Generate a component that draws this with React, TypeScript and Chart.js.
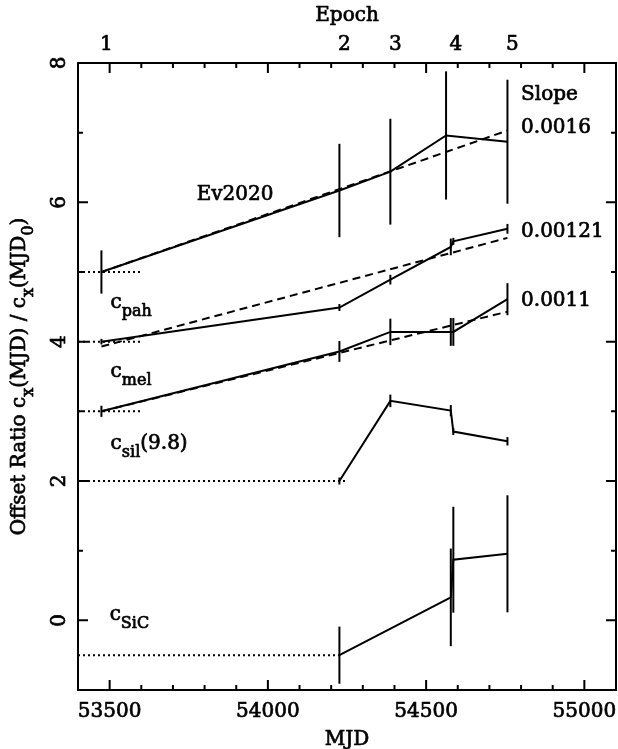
import React, { useEffect, useRef } from "react";
import { Chart, registerables } from "chart.js";
Chart.register(...registerables);

// ---------- data ----------
const epochLabels = ["1", "2", "3", "4", "5"];
const epochMJD = [53474, 54226, 54387, 54578, 54757];

const xTickLabels = [53500, 54000, 54500, 55000];
const yTickLabels = [0, 2, 4, 6, 8];

// Ev2020 (top) series
const evMJD = [53474, 54226, 54387, 54563, 54757];
const evVal = [5.0, 6.17, 6.44, 6.96, 6.87];
const evErr = [0.31, 0.67, 0.76, 0.92, 0.89];
const evFitMJD = [53474, 54757];
const evFitVal = [5.0, 7.03];

// c_pah
const pahMJD = [53474, 54226, 54387, 54578, 54586, 54757];
const pahVal = [4.0, 4.49, 4.89, 5.36, 5.44, 5.62];
const pahErr = [0.04, 0.05, 0.07, 0.12, 0.05, 0.07];
const pahFitMJD = [53474, 54757];
const pahFitVal = [3.93, 5.49];

// c_mel
const melMJD = [53474, 54226, 54387, 54578, 54586, 54757];
const melVal = [3.0, 3.86, 4.14, 4.14, 4.14, 4.61];
const melErr = [0.08, 0.15, 0.19, 0.2, 0.2, 0.23];
const melFitMJD = [53474, 54757];
const melFitVal = [3.0, 4.43];

// c_sil(9.8)
const silMJD = [54226, 54387, 54578, 54586, 54757];
const silVal = [2.0, 3.15, 3.01, 2.71, 2.57];
const silErr = [0.05, 0.09, 0.08, 0.05, 0.06];

// c_SiC
const sicMJD = [54226, 54578, 54586, 54757];
const sicVal = [-0.5, 0.33, 0.87, 0.955];
const sicErr = [0.41, 0.7, 0.76, 0.84];

// reference (dotted) levels
const baseLevels = [5, 4, 3, 2, -0.5];
const baseStartMJD = [53400, 53400, 53400, 53400, 53400];
const baseEndMJD = [53600, 53600, 53600, 54245, 54226];

// slope values
const slopeTitle = "Slope";
const slopeValues = ["0.0016", "0.00121", "0.0011"];

// ---------- helpers ----------
const FONT = '"DejaVu Serif", serif';
type Seg = { t: string; sub?: boolean };

function zip(xs: number[], ys: number[]) {
  return xs.map((x, i) => ({ x, y: ys[i] }));
}

function txt(ctx: CanvasRenderingContext2D, t: string, x: number, y: number) {
  ctx.fillText(t, x, y);
  ctx.strokeText(t, x, y);
}

function drawRich(ctx: CanvasRenderingContext2D, segs: Seg[], x: number, y: number, align: "left" | "center") {
  const main = `20px ${FONT}`;
  const sub = `16px ${FONT}`;
  let w = 0;
  for (const s of segs) {
    ctx.font = s.sub ? sub : main;
    w += ctx.measureText(s.t).width;
  }
  let cx = align === "center" ? x - w / 2 : x;
  ctx.textAlign = "left";
  ctx.textBaseline = "alphabetic";
  for (const s of segs) {
    ctx.font = s.sub ? sub : main;
    txt(ctx, s.t, cx, y + (s.sub ? 8 : 0));
    cx += ctx.measureText(s.t).width;
  }
}

const errorSets = [
  { xs: evMJD, ys: evVal, es: evErr },
  { xs: pahMJD, ys: pahVal, es: pahErr },
  { xs: melMJD, ys: melVal, es: melErr },
  { xs: silMJD, ys: silVal, es: silErr },
  { xs: sicMJD, ys: sicVal, es: sicErr },
];

// annotation anchors (data coords: MJD, value at text baseline)
const seriesLabels: { segs: Seg[]; x: number; y: number }[] = [
  { segs: [{ t: "Ev2020" }], x: 53775, y: 6.04 },
  { segs: [{ t: "c" }, { t: "pah", sub: true }], x: 53503, y: 4.49 },
  { segs: [{ t: "c" }, { t: "mel", sub: true }], x: 53503, y: 3.50 },
  { segs: [{ t: "c" }, { t: "sil", sub: true }, { t: "(9.8)" }], x: 53503, y: 2.46 },
  { segs: [{ t: "c" }, { t: "SiC", sub: true }], x: 53500, y: 0.0 },
];
const slopeAnchorMJD = 54800;
const slopeAnchorVal = [7.47, 7.0, 5.5, 4.51];

const framePlugin = {
  id: "frame",
  afterDatasetsDraw(chart: any) {
    const ctx: CanvasRenderingContext2D = chart.ctx;
    const xs = chart.scales.x;
    const ys = chart.scales.y;
    const { left, right, top, bottom } = chart.chartArea;
    ctx.save();
    ctx.strokeStyle = "#000";
    ctx.fillStyle = "#000";
    ctx.lineCap = "butt";

    // error bars
    ctx.lineWidth = 2;
    for (const s of errorSets) {
      s.xs.forEach((mx, i) => {
        const px = xs.getPixelForValue(mx);
        ctx.beginPath();
        ctx.moveTo(px, ys.getPixelForValue(s.ys[i] - s.es[i]));
        ctx.lineTo(px, ys.getPixelForValue(s.ys[i] + s.es[i]));
        ctx.stroke();
      });
    }

    // frame
    ctx.lineWidth = 2;
    ctx.strokeRect(left, top, right - left, bottom - top);

    // x ticks
    for (let v = 53500; v < 55100; v += 100) {
      const px = xs.getPixelForValue(v);
      const len = v % 500 === 0 ? 10 : 5;
      ctx.beginPath();
      ctx.moveTo(px, bottom);
      ctx.lineTo(px, bottom - len);
      ctx.moveTo(px, top);
      ctx.lineTo(px, top + len);
      ctx.stroke();
    }
    // y ticks
    for (let v = 0; v < 8; v += 1) {
      const py = ys.getPixelForValue(v);
      const len = v % 2 === 0 ? 10 : 5;
      ctx.beginPath();
      ctx.moveTo(left, py);
      ctx.lineTo(left + len, py);
      ctx.moveTo(right, py);
      ctx.lineTo(right - len, py);
      ctx.stroke();
    }

    // text emboldening stroke
    ctx.lineWidth = 0.7;
    ctx.lineJoin = "round";

    // x tick labels
    ctx.font = `20px ${FONT}`;
    ctx.textAlign = "center";
    ctx.textBaseline = "alphabetic";
    for (const v of xTickLabels) {
      txt(ctx, String(v), xs.getPixelForValue(v), 717);
    }
    // x title
    txt(ctx, "MJD", (left + right) / 2, 745);

    // epoch labels (top)
    epochLabels.forEach((lab, i) => {
      txt(ctx, lab, xs.getPixelForValue(epochMJD[i]) + 5, 50);
    });
    txt(ctx, "Epoch", (left + right) / 2, 21);

    // y tick labels, rotated
    for (const v of yTickLabels) {
      const py = ys.getPixelForValue(v);
      ctx.save();
      ctx.translate(65, py);
      ctx.rotate(-Math.PI / 2);
      ctx.textAlign = "center";
      txt(ctx, String(v), 0, 0);
      ctx.restore();
    }

    // y title
    ctx.save();
    ctx.translate(25, (top + bottom) / 2);
    ctx.rotate(-Math.PI / 2);
    drawRich(
      ctx,
      [
        { t: "Offset Ratio c" },
        { t: "x", sub: true },
        { t: "(MJD) / c" },
        { t: "x", sub: true },
        { t: "(MJD" },
        { t: "0", sub: true },
        { t: ")" },
      ],
      0,
      0,
      "center"
    );
    ctx.restore();

    // series labels
    for (const l of seriesLabels) {
      drawRich(ctx, l.segs, xs.getPixelForValue(l.x), ys.getPixelForValue(l.y), "left");
    }
    // slope labels
    const sx = xs.getPixelForValue(slopeAnchorMJD);
    drawRich(ctx, [{ t: slopeTitle }], sx, ys.getPixelForValue(slopeAnchorVal[0]), "left");
    slopeValues.forEach((s, i) => {
      drawRich(ctx, [{ t: s }], sx, ys.getPixelForValue(slopeAnchorVal[i + 1]), "left");
    });

    ctx.restore();
  },
};

export default function App() {
  const ref = useRef<HTMLCanvasElement | null>(null);
  useEffect(() => {
    if (!ref.current) return;
    const solid = (xs: number[], ys: number[]) => ({
      data: zip(xs, ys),
      showLine: true,
      borderColor: "#000",
      borderWidth: 2,
      pointRadius: 0,
      fill: false,
    });
    const dashed = (xs: number[], ys: number[]) => ({
      ...solid(xs, ys),
      borderDash: [8, 5],
    });
    const dotted = baseLevels.map((lv, i) => ({
      ...solid([baseStartMJD[i], baseEndMJD[i]], [lv, lv]),
      borderDash: [2, 3],
    }));
    const chart = new Chart(ref.current, {
      type: "scatter",
      data: {
        datasets: [
          ...dotted,
          solid(evMJD, evVal),
          dashed(evFitMJD, evFitVal),
          solid(pahMJD, pahVal),
          dashed(pahFitMJD, pahFitVal),
          solid(melMJD, melVal),
          dashed(melFitMJD, melFitVal),
          solid(silMJD, silVal),
          solid(sicMJD, sicVal),
        ] as any,
      },
      options: {
        responsive: false,
        animation: false,
        devicePixelRatio: 1,
        layout: { padding: { left: 78, top: 63, right: 2, bottom: 59 } },
        plugins: { legend: { display: false }, tooltip: { enabled: false } },
        scales: {
          x: { type: "linear", min: 53400, max: 55100, display: false },
          y: { type: "linear", min: -1, max: 8, display: false },
        },
        events: [],
      },
      plugins: [framePlugin],
    });
    return () => chart.destroy();
  }, []);
  return (
    <div style={{ position: "absolute", left: 0, top: 0, width: 618, height: 749, background: "#fff" }}>
      <canvas ref={ref} width={618} height={749} style={{ display: "block" }} />
    </div>
  );
}
